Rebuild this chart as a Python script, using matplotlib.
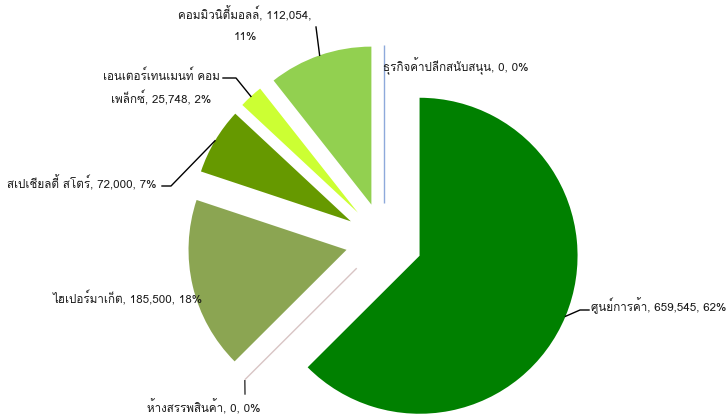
import matplotlib
matplotlib.use("Agg")
import matplotlib.pyplot as plt
from matplotlib import font_manager, ft2font
import numpy as np

# Retail space by type (sq. m.)
categories = ["ศูนย์การค้า", "ห้างสรรพสินค้า", "ไฮเปอร์มาเก็ต", "สเปเชียลตี้ สโตร์",
              "เอนเตอร์เทนเมนท์ คอมเพล็กซ์", "คอมมิวนิตี้มอลล์", "ธุรกิจค้าปลีกสนับสนุน"]
values = [659545, 0, 185500, 72000, 25748, 112054, 0]
percent_labels = ["62%", "0%", "18%", "7%", "2%", "11%", "0%"]
# Label text, one entry per wrapped line
label_lines = [
    ["ศูนย์การค้า, 659,545, 62%"],
    ["ห้างสรรพสินค้า, 0, 0%"],
    ["ไฮเปอร์มาเก็ต, 185,500, 18%"],
    ["สเปเชียลตี้ สโตร์, 72,000, 7%"],
    ["เอนเตอร์เทนเมนท์ คอม", "เพล็กซ์, 25,748, 2%"],
    ["คอมมิวนิตี้มอลล์, 112,054,", "11%"],
    ["ธุรกิจค้าปลีกสนับสนุน, 0, 0%"],
]
colors = ["#008000", "#D8C4C4", "#8BA552", "#669900", "#CCFF33", "#92D050", "#8EA9DB"]


def thai_family():
    for f in font_manager.fontManager.ttflist:
        try:
            cmap = ft2font.FT2Font(f.fname).get_charmap()
        except Exception:
            continue
        if ord("ก") in cmap and ord("ศ") in cmap:
            return f.name
    return None


fam = thai_family()
families = ([fam] if fam else []) + ["DejaVu Sans"]
plt.rcParams["font.family"] = families

W, H = 727, 417
fig = plt.figure(figsize=(W / 100, H / 100), dpi=100)
ax = fig.add_axes([0, 0, 1, 1])

center = (384, H - 241)
radius = 158
offset = 38.5  # distance each slice is pulled out from the centre

wedges, _ = ax.pie(values, colors=colors, startangle=90, counterclock=False,
                   radius=radius, center=center,
                   explode=[offset] * len(values),
                   wedgeprops=dict(linewidth=0))
ax.set_xlim(0, W)
ax.set_ylim(0, H)
ax.set_aspect("equal")
ax.axis("off")

# Slice geometry (clockwise from 12 o'clock)
total = sum(values)
spans = [v / total * 360 for v in values]
starts = np.concatenate([[0], np.cumsum(spans)[:-1]])
mids = starts + np.array(spans) / 2


def apex(theta):
    t = np.radians(theta)
    return center[0] + offset * np.sin(t), center[1] + offset * np.cos(t)


def arc_point(theta):
    ax0, ay0 = apex(theta)
    t = np.radians(theta)
    return ax0 + radius * np.sin(t), ay0 + radius * np.cos(t)


# Zero-value slices show up as a single radius line
for i, v in enumerate(values):
    if v == 0:
        a = apex(mids[i])
        b = arc_point(mids[i])
        ax.plot([a[0], b[0]], [a[1], b[1]], color=colors[i], lw=1.0,
                solid_capstyle="butt")


def sy(y):
    return H - y


fs = 8.4
tc = "#1a1a1a"
line_gap = 23

# Label placements: (x, y of first line, ha) in pixel coordinates, plus leader bend points
placements = {
    0: dict(xy=(591, 306), ha="left", bend=[(580, 310), (589, 310)]),
    1: dict(xy=(204, 407), ha="center", bend=[(245, 394)]),
    2: dict(xy=(128, 298), ha="center", bend=None),
    3: dict(xy=(82, 183), ha="center", bend=[(171, 186), (162, 186)]),
    4: dict(xy=(161, 75), ha="center", bend=[(236, 78), (223, 78)]),
    5: dict(xy=(245, 14), ha="center", bend=[(316, 27)]),
    6: dict(xy=(383, 66), ha="left", bend=None),
}

for i, lines in enumerate(label_lines):
    p = placements[i]
    x, y = p["xy"]
    for k, line in enumerate(lines):
        ax.text(x, sy(y + k * line_gap), line, ha=p["ha"], va="center",
                fontsize=fs, color=tc)
    if p["bend"]:
        start = arc_point(mids[i])
        xs = [start[0]] + [bx for bx, by in p["bend"]]
        ys = [start[1] - (0 if values[i] > 0 else 1)] + [sy(by) for bx, by in p["bend"]]
        ax.plot(xs, ys, color="black" if values[i] > 0 else "#333333", lw=1.0)

fig.savefig("out.png", dpi=100)
